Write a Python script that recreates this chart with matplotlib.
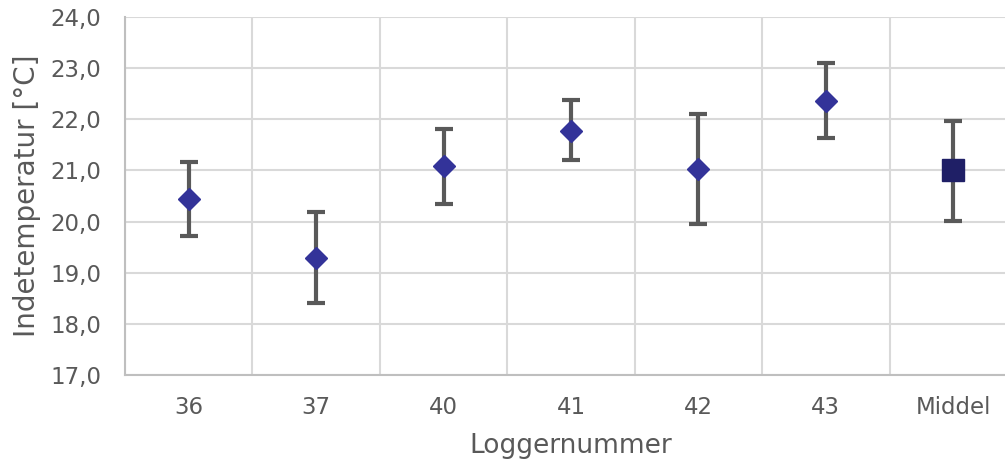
import matplotlib
matplotlib.use("Agg")
import matplotlib.pyplot as plt
import numpy as np

categories = ["36", "37", "40", "41", "42", "43", "Middel"]
means = [20.44, 19.28, 21.08, 21.77, 21.03, 22.36, 21.00]
upper = [21.16, 20.18, 21.81, 22.37, 22.10, 23.10, 21.97]
lower = [19.72, 18.41, 20.34, 21.20, 19.95, 21.63, 20.01]
yticks = [17, 18, 19, 20, 21, 22, 23, 24]

plt.rcParams['font.family'] = ['DejaVu Sans']
fig = plt.figure(figsize=(10.05, 4.62), dpi=100)
W, H = 1005, 462
left, right, top, bottom = 125, 1017, 17, 375
ax = fig.add_axes([left / W, 1 - bottom / H, (right - left) / W, (bottom - top) / H])

x = np.arange(len(categories))
m = np.array(means)
err = np.vstack([m - np.array(lower), np.array(upper) - m])

ax.errorbar(x, m, yerr=err, fmt='none', ecolor='#595959', elinewidth=3.0,
            capsize=6.5, capthick=3.0, zorder=3)
ax.plot(x[:-1], m[:-1], linestyle='none', marker='D', markersize=11,
        color='#333399', zorder=4)
ax.plot(x[-1:], m[-1:], linestyle='none', marker='s', markersize=15.5,
        color='#1f1f66', zorder=4)

ax.set_xlim(-0.5, len(categories) - 0.5)
ax.set_ylim(17, 24)
ax.set_yticks(yticks)
ax.set_yticklabels([f"{v:.1f}".replace('.', ',') for v in yticks])
ax.set_xticks(x)
ax.set_xticklabels(categories)
ax.set_xticks(np.arange(-0.5, len(categories), 1), minor=True)

ax.grid(True, which='major', axis='y', color='#d9d9d9', linewidth=1.5)
ax.grid(True, which='minor', axis='x', color='#d9d9d9', linewidth=1.5)
ax.set_axisbelow(True)

for s in ['top', 'right']:
    ax.spines[s].set_visible(False)
for s in ['left', 'bottom']:
    ax.spines[s].set_color('#bfbfbf')
    ax.spines[s].set_linewidth(1.5)

ax.tick_params(axis='both', which='both', length=0, labelsize=16.5, colors='#595959')
ax.tick_params(axis='y', which='major', pad=17)
ax.tick_params(axis='x', which='major', pad=15)

ax.set_xlabel("Loggernummer", fontsize=19, color='#595959', labelpad=10)
ax.set_ylabel("Indetemperatur [°C]", fontsize=20, color='#595959', labelpad=7)

fig.savefig("out.png", dpi=100)
